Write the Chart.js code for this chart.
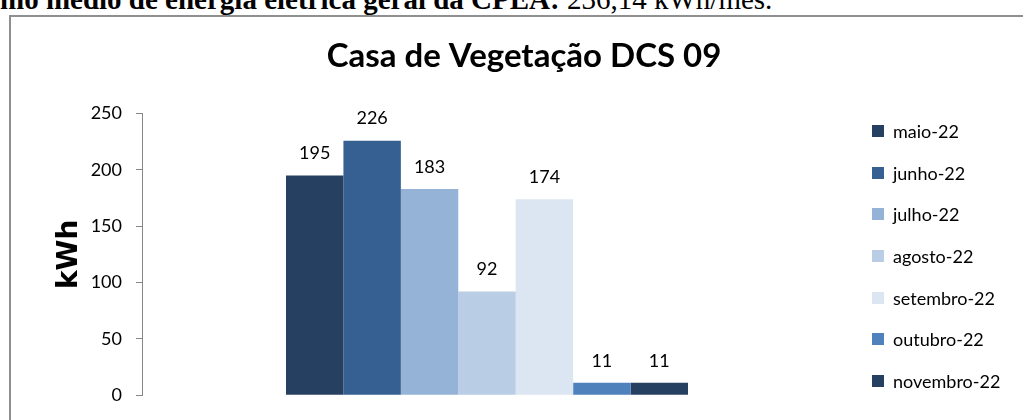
<!DOCTYPE html>
<html lang="pt-BR">
<head>
<meta charset="utf-8">
<title>Casa de Vegetação DCS 09</title>
<script src="https://cdn.jsdelivr.net/npm/chart.js@4.4.1/dist/chart.umd.min.js"></script>
<style>
  html, body { margin: 0; padding: 0; width: 1023px; height: 420px; overflow: hidden; background: #fff; }
  .linha-topo { position: absolute; left: -79px; top: -15px; font: 29px/29px "Liberation Serif", "Times New Roman", serif; white-space: nowrap; color: #000; }
  .moldura { position: absolute; left: 9px; top: 15px; width: 1100px; height: 500px; border: 2px solid #8f8f8f; box-sizing: border-box; }
  .grafico { position: absolute; left: 0; top: 0; width: 1048px; height: 420px; }
  #legenda { position: absolute; left: 872px; top: 122px; margin: 0; padding: 0; list-style: none; font: 18px Lato, sans-serif; color: #000; }
  #legenda li { display: flex; align-items: center; height: 18px; line-height: 18px; margin-bottom: 23.7px; white-space: nowrap; }
  #legenda .caixa { display: inline-block; width: 12px; height: 12px; margin-right: 9px; }
</style>
</head>
<body>
<div class="linha-topo"><b>Consumo médio de energia elétrica geral da CPEA:</b> 236,14 kWh/mês.</div>
<div class="moldura"></div>
<div class="grafico"><canvas id="grafico"></canvas></div>
<ul id="legenda"></ul>

<script>
// dados
const meses = ["maio-22", "junho-22", "julho-22", "agosto-22", "setembro-22", "outubro-22", "novembro-22"]
const consumo = [195, 226, 183, 92, 174, 11, 11]
const yTicks = [0, 50, 100, 150, 200, 250]

const cores = ["#264061", "#366092", "#95b3d7", "#b9cde5", "#dce6f2", "#4f81bd", "#264061"]

// rótulos com o valor em cima de cada barra
const rotulosValores = {
  id: "rotulosValores",
  afterDatasetsDraw(chart) {
    const ctx = chart.ctx
    ctx.save()
    ctx.font = "18px Lato"
    ctx.fillStyle = "#000"
    ctx.textAlign = "center"
    ctx.textBaseline = "middle"
    chart.data.datasets.forEach((ds, i) => {
      chart.getDatasetMeta(i).data.forEach((bar, j) => {
        ctx.fillText(ds.data[j], bar.x, bar.y - 22)
      })
    })
    ctx.restore()
  },
}

// legenda em HTML, montada a partir dos datasets
const legendaHtml = {
  id: "legendaHtml",
  afterUpdate(chart) {
    const ul = document.getElementById("legenda")
    ul.innerHTML = ""
    const itens = chart.options.plugins.legend.labels.generateLabels(chart)
    itens.forEach((item) => {
      const li = document.createElement("li")
      const caixa = document.createElement("span")
      caixa.className = "caixa"
      caixa.style.background = item.fillStyle
      li.appendChild(caixa)
      li.appendChild(document.createTextNode(item.text))
      ul.appendChild(li)
    })
  },
}

new Chart(document.getElementById("grafico"), {
  type: "bar",
  data: {
    labels: [""],
    datasets: meses.map((mes, i) => ({
      label: mes,
      data: [consumo[i]],
      backgroundColor: cores[i],
      borderWidth: 0,
    })),
  },
  options: {
    responsive: true,
    maintainAspectRatio: false,
    animation: false,
    categoryPercentage: 0.5826,
    barPercentage: 1,
    layout: { padding: { left: 0, right: 0, top: 0, bottom: 22 } },
    plugins: {
      legend: { display: false },
      tooltip: { enabled: false },
      title: {
        display: true,
        text: "Casa de Vegetação DCS 09",
        color: "#000",
        font: { family: "Lato", weight: "bold", size: 33, lineHeight: 1.2 },
        padding: { top: 37, bottom: 37 },
      },
    },
    scales: {
      x: { display: false },
      y: {
        min: 0,
        max: 250,
        afterBuildTicks: (scale) => {
          scale.ticks = yTicks.map((v) => ({ value: v }))
        },
        afterFit: (scale) => {
          scale.width = 142
        },
        ticks: { color: "#000", padding: 14, font: { family: "Lato", size: 18 } },
        grid: { drawOnChartArea: false, tickLength: 6, color: "#868686" },
        border: { color: "#868686" },
        title: {
          display: true,
          text: "kWh",
          color: "#000",
          font: { family: "DejaVu Sans", weight: "bold", size: 28, lineHeight: 1.2 },
          padding: { top: 53, bottom: 0 },
        },
      },
      // espaço reservado à direita para a legenda
      lado: {
        type: "linear",
        position: "right",
        display: true,
        ticks: { display: false },
        grid: { display: false },
        border: { display: false },
        afterFit: (scale) => {
          scale.width = 216
        },
      },
    },
  },
  plugins: [rotulosValores, legendaHtml],
})
</script>
</body>
</html>
